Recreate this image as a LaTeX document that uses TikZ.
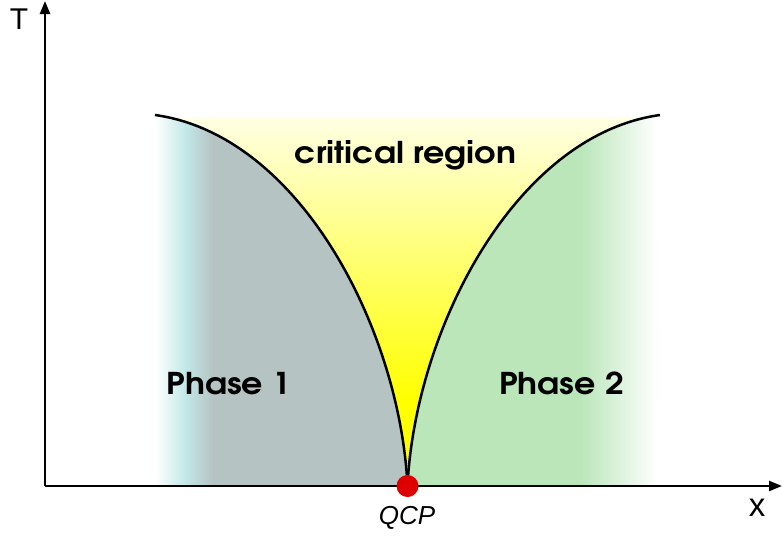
\documentclass[tikz,border=0pt]{standalone}
\usepackage{fontspec}
\setmainfont{Liberation Sans}
\newfontfamily\geo[FakeStretch=1.11]{TeX Gyre Adventor}
\usetikzlibrary{arrows.meta}
\definecolor{phgray}{RGB}{182,195,195}
\definecolor{phcyan}{RGB}{194,232,232}
\definecolor{phgreen}{RGB}{186,230,186}
\definecolor{crit}{RGB}{255,255,0}
\definecolor{critpale}{RGB}{255,255,228}
\definecolor{qcpred}{RGB}{222,0,0}
\tikzset{
  axis/.style={line width=2.4pt,-{Triangle[length=13pt,width=10pt]}},
  boundary/.style={line width=2.5pt,black},
  phaselab/.style={font=\geo\bfseries\fontsize{30}{32}\selectfont,anchor=base},
  plainlab/.style={anchor=base}
}
\begin{document}
\begin{tikzpicture}[x=1pt,y=-1pt]
\useasboundingbox (0,0) rectangle (782,536);
\coordinate (O) at (45,486);
\coordinate (Ytop) at (45,1);
\coordinate (Xend) at (782,486);
\coordinate (L) at (155,115);
\coordinate (R) at (660,115);
\coordinate (Q) at (407.5,486);
% critical region
\fill[top color=critpale, bottom color=crit] (158,117) rectangle (657,400);
\fill[crit] (158,399.5) rectangle (657,486);
% phase 1
\begin{scope}
\clip (L) .. controls (300,135) and (400,330) .. (Q) -- (155,486) -- cycle;
\fill[phgray] (210,100) rectangle (420,490);
\fill[left color=white, right color=phcyan] (155,100) rectangle (185.5,490);
\fill[left color=phcyan, right color=phgray] (185,100) rectangle (213,490);
\end{scope}
% phase 2
\begin{scope}
\clip (R) .. controls (515,135) and (415,330) .. (Q) -- (660,486) -- cycle;
\fill[phgreen] (395,100) rectangle (581,490);
\fill[left color=phgreen, right color=white] (580,100) rectangle (657,490);
\end{scope}
% boundaries
\draw[boundary] (L) .. controls (300,135) and (400,330) .. (Q);
\draw[boundary] (R) .. controls (515,135) and (415,330) .. (Q);
% axes
\draw[axis] (O) -- (Ytop);
\draw[axis] (O) -- (Xend);
\node[circle,fill=qcpred,inner sep=0pt,minimum size=22pt] (qcpdot) at (Q) {};
% labels
\node[plainlab,font=\fontsize{30}{32}\selectfont] (Tlab) at (19,29) {T};
\node[plainlab,font=\fontsize{33}{35}\selectfont] (xlab) at (757,516) {x};
\node[plainlab,font=\itshape\fontsize{26}{28}\selectfont] (qcplab) at (407,524) {QCP};
\node[phaselab] (critlab) at (405.5,163) {critical region};
\node[phaselab] (ph1) at (229,394) {Phase 1};
\node[phaselab] (ph2) at (561.5,394) {Phase 2};
\end{tikzpicture}
\end{document}
